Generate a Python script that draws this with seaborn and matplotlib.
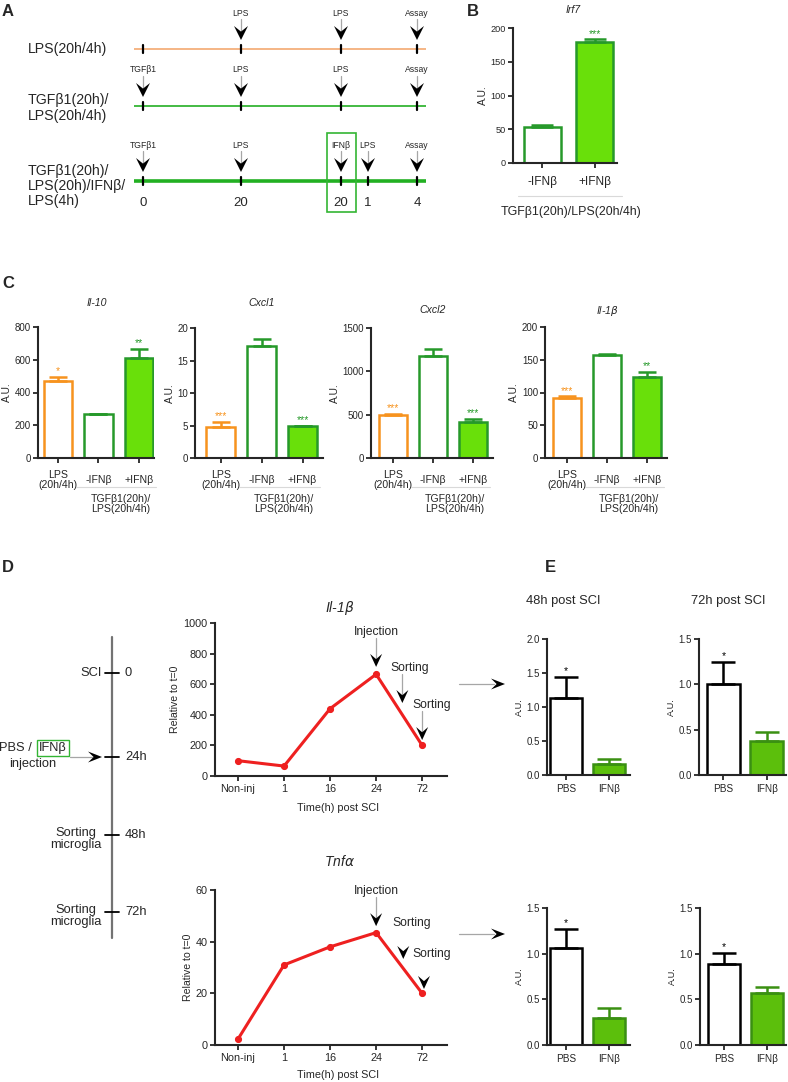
import numpy as np
import pandas as pd
import matplotlib
matplotlib.use("Agg")
import matplotlib.pyplot as plt
from matplotlib.patches import Polygon, Rectangle
import seaborn as sns

# ---------------- data ----------------
irf7_groups = ["-IFNβ", "+IFNβ"]
irf7_mean = [53, 179]
irf7_err = [4, 4]
irf7_stars = ["", "***"]

c_groups = ["LPS\n(20h/4h)", "-IFNβ", "+IFNβ"]
il10_mean = [470, 268, 611]
il10_err = [25, 3, 55]
il10_stars = ["*", "", "**"]
cxcl1_mean = [4.8, 17.2, 4.85]
cxcl1_err = [0.8, 1.1, 0.15]
cxcl1_stars = ["***", "", "***"]
cxcl2_mean = [500, 1175, 420]
cxcl2_err = [12, 80, 35]
cxcl2_stars = ["***", "", "***"]
il1b_mean = [92, 157, 124]
il1b_err = [2, 2, 7]
il1b_stars = ["***", "", "**"]

time_labels = ["Non-inj", "1", "16", "24", "72"]
il1b_time = [100, 65, 440, 665, 200]
tnfa_time = [2.3, 31, 38, 43.5, 20]

e_groups = ["PBS", "IFNβ"]
il1b_48h = [1.13, 0.16]
il1b_48h_err = [0.31, 0.075]
il1b_72h = [1.0, 0.375]
il1b_72h_err = [0.245, 0.1]
tnfa_48h = [1.06, 0.30]
tnfa_48h_err = [0.21, 0.105]
tnfa_72h = [0.89, 0.565]
tnfa_72h_err = [0.115, 0.075]
e_stars = ["*", ""]

# panel A schedule
a_rows = ["LPS(20h/4h)", "TGFβ1(20h)/\nLPS(20h/4h)", "TGFβ1(20h)/\nLPS(20h)/IFNβ/\nLPS(4h)"]
a_events = [["", "LPS", "LPS", "Assay"],
            ["TGFβ1", "LPS", "LPS", "Assay"],
            ["TGFβ1", "LPS", "IFNβ", "LPS", "Assay"]]
a_hours = ["0", "20", "20", "1", "4"]

# panel D schedule
d_times = ["0", "24h", "48h", "72h"]
d_events = ["SCI", "injection", "Sorting\nmicroglia", "Sorting\nmicroglia"]

ORANGE = "#f7931e"
GREEN = "#26992a"
LIME = "#69e00a"
E_FILL = "#5cbf0c"
E_EDGE = "#3a9012"
RED = "#ee2020"

sns.set_style("ticks")
plt.rcParams["font.family"] = ["Liberation Sans", "DejaVu Sans"]
plt.rcParams["axes.linewidth"] = 1.5
plt.rcParams["mathtext.fontset"] = "custom"

W, H = 788, 1082
fig = plt.figure(figsize=(W / 100, H / 100), dpi=100)

# overlay in pixel coordinates (y down) for schematics and labels
ov = fig.add_axes([0, 0, 1, 1], zorder=10)
ov.set_xlim(0, W)
ov.set_ylim(H, 0)
ov.set_facecolor("none")
ov.axis("off")


def px_axes(l, t, r, b):
    return fig.add_axes([l / W, 1 - b / H, (r - l) / W, (b - t) / H])


def to_px(ax, x, y):
    return ov.transData.inverted().transform(ax.transData.transform((x, y)))


def head_down(x, tip, h=13, w=6):
    ov.add_patch(Polygon([(x, tip), (x - w, tip - h), (x, tip - 0.6 * h), (x + w, tip - h)],
                         closed=True, fc="black", ec="none", zorder=5))


def head_right(tip, y, h=14, w=5.5):
    ov.add_patch(Polygon([(tip, y), (tip - h, y - w), (tip - 0.6 * h, y), (tip - h, y + w)],
                         closed=True, fc="black", ec="none", zorder=5))


def stem(x0, y0, x1, y1):
    ov.plot([x0, x1], [y0, y1], color="0.65", lw=0.9, zorder=4)


def bar_panel(box, groups, mean, err, faces, edges, ylim, yticks, xlim, width=0.7,
              stars=None, star_colors=None, tick_fs=7, label_fs=7.6, ylab_fs=7.4,
              cap=6.5, fmt="{:g}", lw=1.8, star_fs=7.5):
    ax = px_axes(*box)
    df = pd.DataFrame({"group": groups, "value": mean})
    sns.barplot(data=df, x="group", y="value", color="white", width=width,
                errorbar=None, ax=ax, zorder=2)
    for patch, fc, ec in zip(ax.patches, faces, edges):
        patch.set_facecolor(fc)
        patch.set_edgecolor(ec)
        patch.set_linewidth(lw)
    for i, (m, e, ec) in enumerate(zip(mean, err, edges)):
        ax.errorbar(i, m, yerr=[[0], [e]], fmt="none", ecolor=ec, elinewidth=lw,
                    capsize=cap, capthick=lw, zorder=3)
        if stars and stars[i]:
            ax.annotate(stars[i], (i, m + e), xytext=(0, 0.5), textcoords="offset points",
                        ha="center", va="bottom", fontsize=star_fs, color=star_colors[i])
    ax.set_ylim(*ylim)
    ax.set_xlim(*xlim)
    ax.set_yticks(yticks)
    ax.set_yticklabels([fmt.format(v) for v in yticks])
    ax.set_xlabel("")
    ax.set_ylabel("A.U.", fontsize=ylab_fs, labelpad=2)
    sns.despine(ax=ax)
    ax.tick_params(length=3.5, width=1.3, labelsize=tick_fs, pad=1.5)
    ax.tick_params(axis="x", labelsize=label_fs)
    return ax


def time_panel(box, values, ylim, yticks, title, title_y, xlab_y):
    ax = px_axes(*box)
    sns.pointplot(x=time_labels, y=values, color=RED, markersize=3.5, linewidth=2.2,
                  errorbar=None, ax=ax)
    ax.set_xlim(-0.5, 4.54)
    ax.set_ylim(*ylim)
    ax.set_yticks(yticks)
    ax.set_ylabel("Relative to t=0", fontsize=7.6, labelpad=2)
    ax.set_xlabel("")
    sns.despine(ax=ax)
    ax.tick_params(length=3.5, width=1.3, labelsize=7.8, pad=2)
    ov.text(338, xlab_y, "Time(h) post SCI", ha="center", va="center", fontsize=7.8)
    ov.text(340, title_y, title, ha="center", va="center", fontsize=10, style="italic")
    return ax


def pointer(ax, x, y_tip, label, tx, ty, with_stem=True):
    lx, ly = to_px(ax, tx, ty)
    ov.text(lx, ly, label, ha="center", va="center", fontsize=8.7)
    px, tip = to_px(ax, x, y_tip)
    head_down(px, tip, h=13, w=6)
    if with_stem:
        stem(px, ly + 6, px, tip - 8)


# ---------------- panel letters ----------------
for letter, (x, y) in zip("ABCDE", [(8, 12), (473, 12), (8, 283), (8, 567), (550, 567)]):
    ov.text(x, y, letter, fontsize=12, fontweight="bold", ha="center", va="center")

# ---------------- panel A ----------------
a_line_y = [49, 106, 181]
a_label_y = [49, 108, 186]
a_line_style = [("#f5b07c", 1.3), ("#35b535", 1.3), ("#22b022", 2.6)]
a_x = [[143, 241, 341, 417], [143, 241, 341, 417], [143, 241, 341, 368, 417]]
for row, ly, lab_y, (col, lwid), xs, evs in zip(a_rows, a_line_y, a_label_y, a_line_style, a_x, a_events):
    ov.text(28, lab_y, row, ha="left", va="center", fontsize=10.2, linespacing=1.12)
    ov.plot([134, 426], [ly, ly], color=col, lw=lwid, zorder=3, solid_capstyle="butt")
    for x, ev in zip(xs, evs):
        ov.plot([x, x], [ly - 4, ly + 4], color="black", lw=1.6, zorder=4)
        if ev:
            top = ly - 36
            ov.text(x, top, ev, ha="center", va="center", fontsize=6.2)
            stem(x, top + 6, x, ly - 17)
            head_down(x, ly - 9, h=14, w=7)
for x, hr in zip(a_x[2], a_hours):
    ov.text(x, 203, hr, ha="center", va="center", fontsize=9.5)
ov.add_patch(Rectangle((327, 133), 29, 79, fill=False, ec="#33b533", lw=1.2, zorder=5))

# ---------------- panel B ----------------
axb = bar_panel((513, 28, 617, 163), irf7_groups, irf7_mean, irf7_err, ["white", LIME],
                [GREEN, GREEN], (0, 200), [0, 50, 100, 150, 200], (-0.55, 1.42),
                width=0.7, stars=irf7_stars, star_colors=[GREEN, GREEN], tick_fs=6.6,
                label_fs=8.6, cap=8)
axb.tick_params(axis="x", pad=6)
ov.text(573, 10, "Irf7", ha="center", va="center", fontsize=7.6, style="italic")
x0, _ = to_px(axb, -0.45, 0)
x1, _ = to_px(axb, 1.51, 0)
ov.plot([x0, x1], [196, 196], color="0.85", lw=0.8)
xm, _ = to_px(axb, 0.55, 0)
ov.text(xm, 212, "TGFβ1(20h)/LPS(20h/4h)", ha="center", va="center", fontsize=8.9)

# ---------------- panel C ----------------
c_faces = ["white", "white", LIME]
c_edges = [ORANGE, GREEN, GREEN]
c_specs = [
    ((38, 327, 154, 458), il10_mean, il10_err, il10_stars, (0, 800), [0, 200, 400, 600, 800], (-0.49, 2.37), "Il-10", (97, 303)),
    ((195, 328, 323, 458), cxcl1_mean, cxcl1_err, cxcl1_stars, (0, 20), [0, 5, 10, 15, 20], (-0.63, 2.5), "Cxcl1", (262, 303)),
    ((371, 328, 493, 458), cxcl2_mean, cxcl2_err, cxcl2_stars, (0, 1500), [0, 500, 1000, 1500], (-0.55, 2.5), "Cxcl2", (433, 310)),
    ((545, 327, 667, 458), il1b_mean, il1b_err, il1b_stars, (0, 200), [0, 50, 100, 150, 200], (-0.55, 2.5), "Il-1$\\beta$", (607, 311)),
]
for box, mean, err, stars, ylim, yt, xlim, title, (tx, ty) in c_specs:
    ax = bar_panel(box, c_groups, mean, err, c_faces, c_edges, ylim, yt, xlim, width=0.7,
                   stars=stars, star_colors=c_edges, tick_fs=7, label_fs=7.6, cap=6.5)
    for lab in ax.get_xticklabels():
        lab.set_va("center")
        lab.set_linespacing(1.0)
    ax.tick_params(axis="x", pad=12)
    ov.text(tx, ty, title, ha="center", va="center", fontsize=7.6, style="italic")
    x0, _ = to_px(ax, 0.45, 0)
    x1, _ = to_px(ax, 2.42, 0)
    ov.plot([x0, x1], [487, 487], color="0.85", lw=0.8)
    xm, _ = to_px(ax, 1.55, 0)
    ov.text(xm, 504, "TGFβ1(20h)/\nLPS(20h/4h)", ha="center", va="center", fontsize=7.6,
            linespacing=1.0)

# ---------------- panel D timeline ----------------
ov.plot([112, 112], [637, 938], color="0.45", lw=1.6)
d_y = [673, 757, 835, 912]
for y, t, ev in zip(d_y, d_times, d_events):
    ov.plot([105, 119], [y, y], color="black", lw=1.3)
    ov.text(125, y, t, ha="left", va="center", fontsize=9.3)
for y, ev in zip(d_y[2:], d_events[2:]):
    ov.text(76, y + 4, ev, ha="center", va="center", fontsize=9.3, linespacing=1.05)
ov.text(102, d_y[0], d_events[0], ha="right", va="center", fontsize=9.3)
ov.text(36, 748, "PBS / ", ha="right", va="center", fontsize=9.3)
ov.text(39, 748, "IFNβ", ha="left", va="center", fontsize=9.3,
        bbox=dict(boxstyle="square,pad=0.15", fc="none", ec="#33b533", lw=1.0))
ov.text(33, 764, d_events[1], ha="center", va="center", fontsize=9.3)
stem(70, 757, 92, 757)
head_right(102, 757)

# ---------------- panel D line charts ----------------
ax_d1 = time_panel((215, 623, 447, 776), il1b_time, (0, 1000), [0, 200, 400, 600, 800, 1000],
                   "Il-1$\\beta$", 608, 808)
pointer(ax_d1, 3, 713, "Injection", 3, 942)
pointer(ax_d1, 3.57, 477, "Sorting", 3.74, 706)
pointer(ax_d1, 4, 235, "Sorting", 4.2, 464)

ax_d2 = time_panel((215, 890, 447, 1045), tnfa_time, (0, 60), [0, 20, 40, 60],
                   "Tnf$\\alpha$", 862, 1075)
pointer(ax_d2, 3, 46, "Injection", 3, 59.6)
pointer(ax_d2, 3.59, 33.3, "Sorting", 3.78, 47.2, with_stem=False)
pointer(ax_d2, 4.04, 21.7, "Sorting", 4.2, 35.2, with_stem=False)

for y in [684, 934]:
    stem(459, y, 494, y)
    head_right(505, y)

# ---------------- panel E ----------------
ov.text(563, 601, "48h post SCI", ha="center", va="center", fontsize=9.3)
ov.text(728, 601, "72h post SCI", ha="center", va="center", fontsize=9.3)
e_faces = ["white", E_FILL]
e_edges = ["black", E_EDGE]
e_specs = [
    ((547, 639, 630, 775), il1b_48h, il1b_48h_err, (0, 2.0), [0, 0.5, 1.0, 1.5, 2.0], (-0.45, 1.5)),
    ((699, 639, 786, 775), il1b_72h, il1b_72h_err, (0, 1.5), [0, 0.5, 1.0, 1.5], (-0.56, 1.44)),
    ((547, 908, 630, 1045), tnfa_48h, tnfa_48h_err, (0, 1.5), [0, 0.5, 1.0, 1.5], (-0.45, 1.5)),
    ((700, 908, 786, 1045), tnfa_72h, tnfa_72h_err, (0, 1.5), [0, 0.5, 1.0, 1.5], (-0.56, 1.44)),
]
for box, mean, err, ylim, yt, xlim in e_specs:
    ax = bar_panel(box, e_groups, mean, err, e_faces, e_edges, ylim, yt, xlim, width=0.76,
                   stars=e_stars, star_colors=["black", "black"], tick_fs=7, label_fs=7.2,
                   ylab_fs=6.6, cap=8.3, fmt="{:.1f}", lw=1.8, star_fs=7.5)
    ax.tick_params(axis="x", pad=3)

fig.savefig("out.png", dpi=100)
